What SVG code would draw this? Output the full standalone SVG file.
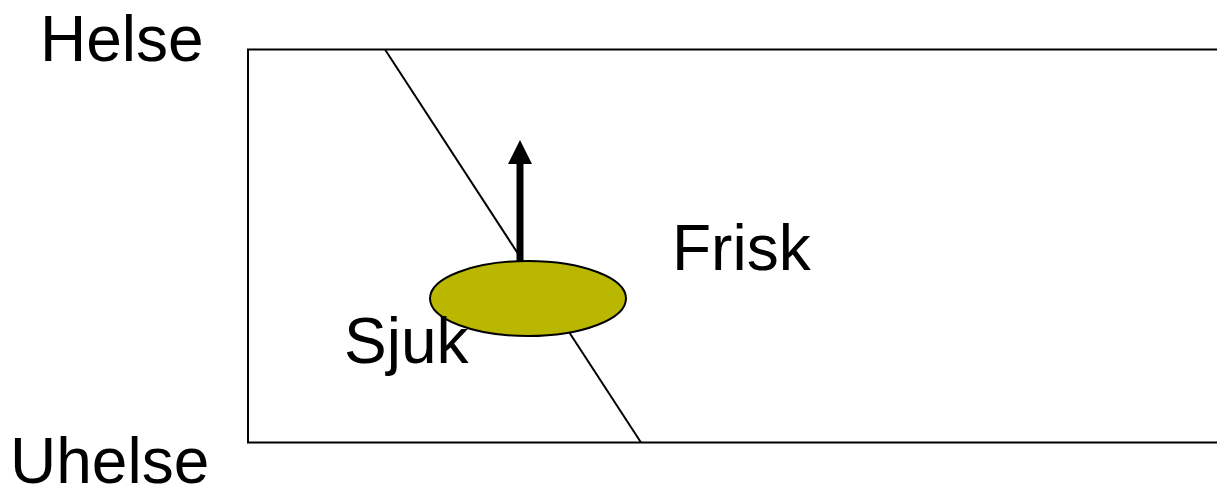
<svg xmlns="http://www.w3.org/2000/svg" width="1217" height="486" viewBox="0 0 1217 486">
<style>
.lbl{font-family:"Liberation Sans",Arial,sans-serif;font-size:64px;fill:#000}
.ln{stroke:#000;fill:none}
</style>
<rect width="1217" height="486" fill="#fff"/>
<g id="frame">
<rect class="ln" x="248" y="49.5" width="1000" height="393" stroke-width="2"/>
</g>
<g id="connectors">
<line class="ln" x1="385" y1="49.5" x2="641" y2="442.5" stroke-width="2"/>
<line class="ln" x1="520" y1="263" x2="520" y2="160" stroke-width="7"/>
<polygon points="508,164 532,164 520,140" fill="#000"/>
</g>
<g id="ellipse-node">
<ellipse cx="528" cy="298.5" rx="98" ry="37.5" fill="#BAB700" stroke="#000" stroke-width="2"/>
</g>
<g id="helse"><text class="lbl" x="40" y="61">Helse</text></g>
<g id="uhelse"><text class="lbl" x="10" y="483">Uhelse</text></g>
<g id="frisk"><text class="lbl" x="672" y="270">Frisk</text></g>
<g id="sjuk"><text class="lbl" x="344" y="363">Sjuk</text></g>
</svg>
